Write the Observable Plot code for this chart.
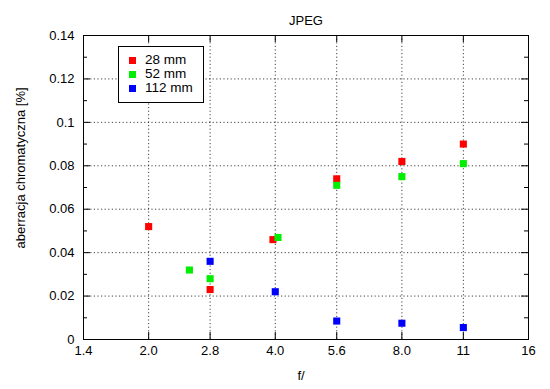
<!DOCTYPE html>
<html>
<head>
<meta charset="utf-8">
<script src="https://cdn.jsdelivr.net/npm/d3@7"></script>
<script src="https://cdn.jsdelivr.net/npm/@observablehq/plot@0.6"></script>
<style>
  html, body { margin: 0; padding: 0; background: #fff; }
  #wrap { position: relative; width: 550px; height: 389px; font-family: "Liberation Sans", Arial, sans-serif; }
  #legend { position: absolute; left: 118px; top: 46px; width: 84px; height: 55px; border: 1px solid #000; background: #fff; font-size: 13.5px; }
  .lg { position: absolute; left: 0; height: 14px; line-height: 14px; }
  .lg span.sw { position: absolute; left: 10px; top: 4px; width: 7px; height: 7px; }
  .lg span.tx { position: absolute; left: 26px; top: 0; white-space: nowrap; }
</style>
</head>
<body>
<div id="wrap"></div>
<script>
const title = "JPEG";
const xLabel = "f/";
const yLabel = "aberracja chromatyczna [%]";

const xTicks = [1.4, 2.0, 2.8, 4.0, 5.6, 8.0, 11.2, 16];
const xTickLabels = ["1.4", "2.0", "2.8", "4.0", "5.6", "8.0", "11", "16"];
const yTicks = [0, 0.02, 0.04, 0.06, 0.08, 0.1, 0.12, 0.14];
const yMinorTicks = [0.01, 0.03, 0.05, 0.07, 0.09, 0.11, 0.13];

const seriesNames = ["28 mm", "52 mm", "112 mm"];
const seriesColors = ["#ff0000", "#00ee00", "#0000ff"];

const f28 = [2.0, 2.8, 3.95, 5.6, 8.0, 11.2];
const ca28 = [0.052, 0.023, 0.046, 0.074, 0.082, 0.090];
const f52 = [2.5, 2.8, 4.06, 5.6, 8.0, 11.2];
const ca52 = [0.032, 0.028, 0.047, 0.071, 0.075, 0.081];
const f112 = [2.8, 4.0, 5.6, 8.0, 11.2];
const ca112 = [0.036, 0.022, 0.0085, 0.0075, 0.0055];

const data = [];
[[f28, ca28], [f52, ca52], [f112, ca112]].forEach(([fs, cs], s) => {
  fs.forEach((f, i) => data.push({f, ca: cs[i], series: seriesNames[s]}));
});

const W = 550, H = 389;
const mL = 83, mR = 22, mT = 35, mB = 50;
const pw = W - mL - mR, ph = H - mT - mB;

const grid = {stroke: "#000", strokeOpacity: 0.75, strokeDasharray: "1.2,2.4", strokeWidth: 1};

const chart = Plot.plot({
  width: W, height: H,
  marginLeft: mL, marginRight: mR, marginTop: mT, marginBottom: mB,
  style: {fontFamily: "Liberation Sans, Arial, sans-serif", fontSize: "13px", color: "#000", background: "#fff"},
  x: {type: "log", domain: [1.4, 16]},
  y: {domain: [0, 0.14]},
  color: {domain: seriesNames, range: seriesColors},
  marks: [
    Plot.ruleX(xTicks.slice(1, -1), {x: d => d, ...grid}),
    Plot.ruleY(yTicks.slice(1, -1), {y: d => d, ...grid}),
    // inward major/minor ticks
    Plot.tickY(yTicks, {y: d => d, insetRight: pw - 7, stroke: "#000"}),
    Plot.tickY(yTicks, {y: d => d, insetLeft: pw - 7, stroke: "#000"}),
    Plot.tickY(yMinorTicks, {y: d => d, insetRight: pw - 4, stroke: "#000"}),
    Plot.tickY(yMinorTicks, {y: d => d, insetLeft: pw - 4, stroke: "#000"}),
    Plot.tickX(xTicks, {x: d => d, insetTop: ph - 7, stroke: "#000"}),
    Plot.tickX(xTicks, {x: d => d, insetBottom: ph - 7, stroke: "#000"}),
    Plot.axisX({ticks: xTicks, tickFormat: d => xTickLabels[xTicks.indexOf(d)], tickSize: 0, tickPadding: 6, label: null}),
    Plot.axisY({ticks: yTicks, tickFormat: d => String(d), tickSize: 0, tickPadding: 9, label: null}),
    Plot.frame({stroke: "#000", strokeWidth: 1}),
    Plot.dot(data, {x: "f", y: "ca", fill: "series", symbol: "square", r: 4, stroke: null}),
    Plot.text([title], {frameAnchor: "top", dy: -20, text: d => d, fontSize: 13})
  ]
});

const wrap = document.getElementById("wrap");
wrap.appendChild(chart);

const svg = d3.select(chart);
svg.append("text")
  .attr("x", 301).attr("y", 375).attr("dy", "0.35em")
  .attr("font-size", 13).attr("fill", "#000")
  .text(xLabel);
svg.append("text")
  .attr("transform", "translate(20,168) rotate(-90)")
  .attr("text-anchor", "middle").attr("dy", "0.35em")
  .attr("font-size", 13).attr("fill", "#000")
  .text(yLabel);

const legend = document.createElement("div");
legend.id = "legend";
seriesNames.forEach((name, i) => {
  const row = document.createElement("div");
  row.className = "lg";
  row.style.top = (6 + i * 14) + "px";
  row.style.width = "100%";
  const sw = document.createElement("span");
  sw.className = "sw";
  sw.style.background = seriesColors[i];
  const tx = document.createElement("span");
  tx.className = "tx";
  tx.textContent = name;
  row.appendChild(sw);
  row.appendChild(tx);
  legend.appendChild(row);
});
wrap.appendChild(legend);
</script>
</body>
</html>
